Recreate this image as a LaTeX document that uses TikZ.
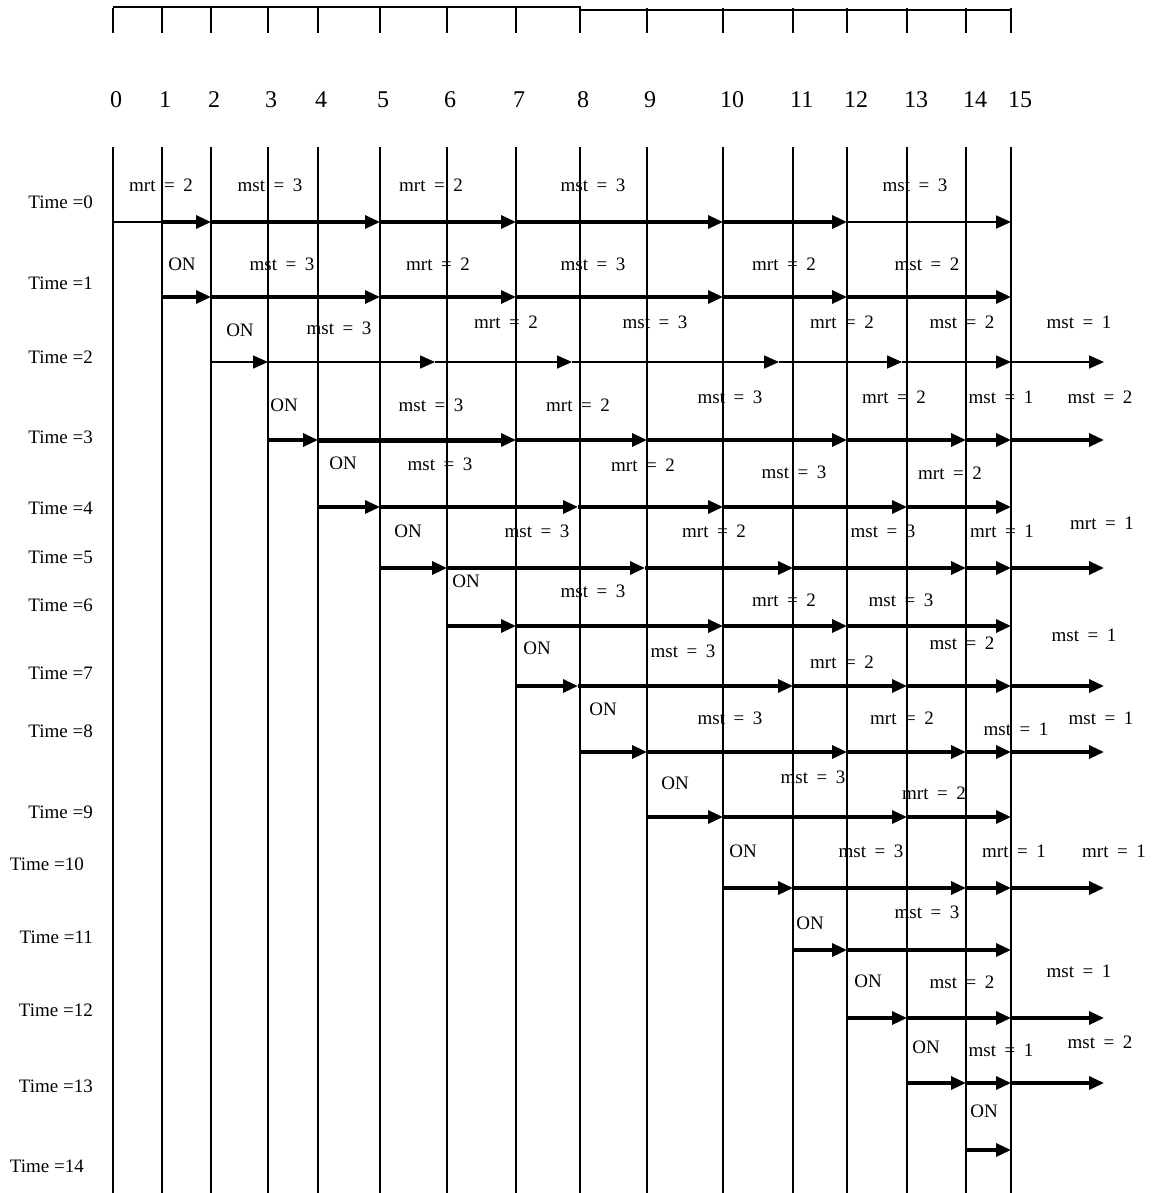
\documentclass[tikz,border=0pt]{standalone}
\usepackage{fontspec}
\setmainfont{Liberation Serif}
\usetikzlibrary{arrows.meta}
\newcommand{\labfont}{\fontsize{19}{21}\selectfont\spaceskip=0.45em plus 0.1em\relax}
\newcommand{\timefont}{\fontsize{19}{21}\selectfont}
\newcommand{\numfont}{\fontsize{24}{26}\selectfont}
\tikzset{
  gline/.style ={line width=1.8pt, black},
  bar/.style   ={line width=2.4pt, black},
  thk/.style   ={line width=3.2pt, -{Triangle[length=15pt,width=13pt]}},
  thn/.style   ={line width=1.6pt, -{Triangle[length=15pt,width=13pt]}},
  lab/.style   ={font=\labfont, inner sep=0pt},
  tlab/.style  ={font=\timefont, anchor=east, inner sep=0pt},
  nlab/.style  ={font=\numfont, anchor=west, inner sep=0pt},
}
\begin{document}
\begin{tikzpicture}[x=1pt,y=-1pt]
\useasboundingbox (0,0) rectangle (1157,1193);
% ---------- scale: bracket, ticks, numbers, grid ----------
\draw[bar] (113,7) -- (580,7) -- (580,10) -- (1011,10);
\foreach \i/\x in {0/113,1/162,2/211,3/268,4/318,5/380,6/447,7/516,
                   8/580,9/647,10/723,11/793,12/847,13/907,14/966,15/1011}{
  \coordinate (g\i) at (\x,0);
  \draw[gline] (\x,8) -- (\x,33);
  \node[nlab] (n\i) at (\x-3,100) {\i};
  \draw[gline] (\x,147) -- (\x,1193);
}

% ---------- time labels ----------
\foreach \i/\y in {0/202,1/283,2/357,3/437,4/508,5/557,6/605,7/673,8/731,
                   9/812,11/937,12/1010,13/1086}{
  \node[tlab] (t\i) at (93,\y) {Time =\i};
}
\node[tlab] (t10) at (84,864) {Time =10};
\node[tlab] (t14) at (84,1166) {Time =14};

% ---------- row 0 ----------
\draw[line width=1.6pt] (113,222) -- (162,222);
\foreach \t [remember=\t as \p (initially 162)] in {211,380,516,723,847}
  \draw[thk] (\p,222) -- (\t,222);
\draw[thn] (847,222) -- (1011,222);

% ---------- row 2 (thin) ----------
\foreach \t [remember=\t as \p (initially 211)] in {268,435,572,779,902,1011,1104}
  \draw[thn] (\p,362) -- (\t,362);

% ---------- other rows ----------
\draw[line width=5pt] (318,440) -- (502,440);
\foreach \y/\s/\pts in {
  297/162/{211,380,516,723,847,1011},
  440/268/{318,516,647,847,966,1011,1104},
  507/318/{380,578,723,907,1011},
  568/380/{447,645,793,966,1011,1104},
  626/447/{516,723,847,1011},
  686/516/{578,793,907,1011,1104},
  752/580/{647,847,966,1011,1104},
  817/647/{723,907,1011},
  888/723/{793,966,1011,1104},
  950/793/{847,1011},
  1018/847/{907,1011,1104},
  1083/907/{966,1011,1104},
  1150/966/{1011}}{
  \foreach \t [remember=\t as \p (initially \s)] in \pts
    \draw[thk] (\p,\y) -- (\t,\y);
}

% ---------- ON labels ----------
\foreach \x/\y [count=\k] in {182/264,240/330,284/405,343/463,408/531,466/581,
                              537/648,603/709,675/783,743/851,810/923,868/981,
                              926/1047,984/1111}{
  \node[lab] (on\k) at (\x,\y) {ON};
}

% ---------- mrt / mst labels ----------
\foreach \x/\y/\txt [count=\k] in {
  161/185/mrt = 2, 270/185/mst = 3, 431/185/mrt = 2, 593/185/mst = 3, 915/185/mst = 3,
  282/264/mst = 3, 438/264/mrt = 2, 593/264/mst = 3, 784/264/mrt = 2, 927/264/mst = 2,
  339/328/mst = 3, 506/322/mrt = 2, 655/322/mst = 3, 842/322/mrt = 2, 962/322/mst = 2,
  1079/322/mst = 1,
  431/405/mst = 3, 578/405/mrt = 2, 730/397/mst = 3, 894/397/mrt = 2, 1001/397/mst = 1,
  1100/397/mst = 2,
  440/464/mst = 3, 643/465/mrt = 2, 794/472/mst = 3, 950/473/mrt = 2,
  537/531/mst = 3, 714/531/mrt = 2, 883/531/mst = 3, 1002/531/mrt = 1, 1102/523/mrt = 1,
  593/591/mst = 3, 784/600/mrt = 2, 901/600/mst = 3,
  683/651/mst = 3, 842/662/mrt = 2, 962/643/mst = 2, 1084/635/mst = 1,
  730/718/mst = 3, 902/718/mrt = 2, 1016/729/mst = 1, 1101/718/mst = 1,
  813/777/mst = 3, 934/793/mrt = 2,
  871/851/mst = 3, 1014/851/mrt = 1, 1114/851/mrt = 1,
  927/912/mst = 3,
  962/982/mst = 2, 1079/971/mst = 1,
  1001/1050/mst = 1, 1100/1042/mst = 2}{
  \node[lab] (m\k) at (\x,\y) {\txt};
}
\end{tikzpicture}
\end{document}
